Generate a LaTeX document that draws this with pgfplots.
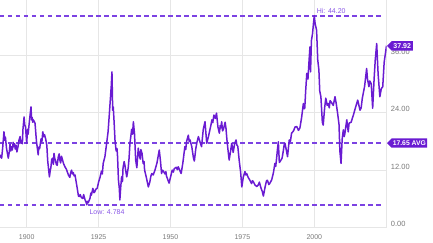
\documentclass[border=0pt]{standalone}
\usepackage{fontspec}
\setmainfont{Liberation Sans}
\usepackage{pgfplots}
\usepackage{pgfplotstable}
\pgfplotsset{compat=1.18}
\usetikzlibrary{shapes.symbols}
\definecolor{cline}{HTML}{6A1BD2}
\definecolor{cdash}{HTML}{7C42E2}
\definecolor{clab}{HTML}{8A58E6}
\definecolor{ctag}{HTML}{6A1BD2}
\definecolor{cgrid}{HTML}{E6E6E6}
\definecolor{ctick}{HTML}{7A7A7A}

\pgfplotstableread{
year val
1890.72 15.2
1890.9 14.8
1891.3 14.5
1891.7 17.0
1892.1 20.0
1892.4 18.2
1892.6 18.9
1893.0 16.5
1893.6 14.5
1894.0 16.0
1894.2 17.4
1894.5 16.0
1894.8 16.9
1895.0 16.2
1895.3 17.8
1895.5 16.9
1895.8 17.5
1896.0 16.4
1896.3 17.2
1896.6 15.8
1897.0 17.0
1897.3 18.2
1897.7 19.0
1898.0 17.6
1898.2 18.2
1898.5 17.5
1898.7 20.5
1899.1 23.1
1899.3 21.5
1899.6 21.0
1900.0 17.6
1900.3 20.5
1900.5 19.5
1901.0 22.5
1901.5 25.2
1901.7 22.5
1901.9 23.0
1902.1 22.0
1902.3 22.5
1902.9 21.8
1903.2 19.5
1903.4 18.0
1904.0 15.2
1904.2 16.8
1904.5 16.5
1905.0 18.5
1905.3 18.0
1905.6 20.0
1905.9 19.0
1906.2 19.4
1906.6 18.5
1907.0 17.2
1907.3 14.0
1907.9 10.6
1908.2 12.0
1908.4 12.5
1908.7 14.2
1909.0 14.5
1909.3 13.2
1909.5 15.5
1909.8 14.3
1910.0 14.1
1910.3 13.2
1910.6 13.0
1911.0 14.8
1911.3 15.4
1911.5 14.2
1911.8 13.5
1912.1 14.9
1912.3 14.5
1912.8 13.4
1913.3 12.7
1913.8 12.2
1914.5 11.0
1915.0 10.5
1915.3 11.5
1915.6 12.0
1915.9 11.2
1916.2 11.5
1916.5 10.8
1916.8 11.0
1917.5 8.5
1918.0 6.6
1918.3 6.5
1918.6 6.9
1919.0 6.3
1919.5 6.1
1919.8 6.9
1920.3 5.8
1920.6 5.4
1920.9 4.784
1921.1 5.5
1921.4 5.2
1922.0 6.1
1922.3 7.2
1922.5 6.8
1923.0 8.2
1923.4 7.3
1923.7 7.5
1924.0 8.0
1924.5 8.2
1925.0 9.5
1925.5 10.5
1926.0 11.8
1926.3 11.2
1926.6 13.4
1927.2 14.8
1927.8 17.6
1928.3 20.0
1928.6 22.5
1929.0 26.0
1929.4 29.5
1929.65 32.5
1929.9 24.5
1930.1 25.2
1930.4 22.0
1930.7 18.3
1931.1 16.0
1931.4 16.5
1931.6 14.8
1931.9 10.0
1932.2 8.2
1932.4 5.8
1932.7 8.5
1933.0 10.6
1933.3 9.6
1933.5 12.5
1933.9 13.8
1934.2 12.9
1934.4 12.0
1934.8 10.6
1935.3 12.5
1935.6 14.5
1935.9 17.6
1936.2 19.0
1936.5 20.5
1936.8 19.5
1937.1 22.1
1937.5 19.5
1937.9 14.1
1938.3 12.5
1938.6 15.0
1938.8 16.6
1939.2 15.0
1939.5 14.3
1939.7 16.3
1940.1 15.5
1940.5 13.4
1940.8 13.8
1941.0 12.0
1941.6 10.5
1942.3 8.5
1942.8 9.5
1943.2 10.8
1943.5 11.3
1944.0 11.0
1944.6 12.0
1945.3 13.5
1945.8 15.2
1946.1 16.2
1946.5 14.0
1946.9 11.3
1947.2 12.0
1947.5 11.8
1948.1 11.2
1948.4 11.7
1948.6 10.8
1949.5 9.3
1950.0 10.5
1950.6 12.0
1951.0 11.6
1951.3 12.3
1952.0 12.6
1952.4 12.1
1952.7 12.7
1953.2 12.0
1953.7 11.3
1954.3 13.5
1955.0 16.9
1955.3 16.3
1955.6 18.0
1956.2 19.3
1956.5 18.0
1956.8 18.3
1957.4 16.9
1958.0 14.5
1958.3 13.9
1958.8 16.5
1959.2 17.8
1959.7 19.0
1960.3 17.8
1960.8 16.9
1961.4 20.5
1962.0 22.1
1962.6 17.6
1963.2 19.0
1963.7 20.4
1964.0 21.2
1964.4 22.5
1964.7 21.9
1965.1 23.5
1965.6 22.8
1966.0 23.9
1966.5 21.0
1967.0 19.7
1967.3 21.3
1967.5 20.8
1967.8 22.1
1968.1 20.2
1968.4 20.5
1969.0 22.0
1969.3 20.7
1969.6 18.5
1970.0 16.2
1970.4 14.1
1970.9 16.0
1971.3 17.6
1971.8 15.7
1972.3 17.5
1972.8 18.3
1973.1 17.2
1973.4 17.0
1973.9 14.0
1974.4 11.5
1974.8 8.5
1975.3 10.5
1975.9 11.7
1976.2 11.0
1976.5 11.3
1977.0 10.5
1977.6 9.9
1978.2 9.2
1978.5 9.8
1978.8 9.6
1979.4 8.9
1980.0 8.6
1980.5 8.9
1980.9 9.5
1981.5 8.2
1981.9 7.6
1982.3 6.6
1982.9 8.5
1983.4 9.8
1983.7 9.9
1984.2 9.0
1984.5 9.2
1985.2 10.0
1985.8 11.5
1986.3 13.4
1986.6 12.8
1986.9 14.5
1987.2 16.4
1987.5 17.9
1987.85 13.6
1988.1 13.8
1988.8 14.5
1989.2 15.9
1989.5 17.2
1989.8 17.6
1990.4 15.8
1990.7 14.8
1991.0 16.6
1991.3 18.3
1991.7 18.0
1992.1 19.7
1992.8 20.2
1993.3 21.0
1993.9 21.1
1994.5 20.3
1995.0 20.8
1995.6 23.0
1996.2 25.9
1996.5 24.8
1996.7 25.0
1997.0 28.5
1997.4 32.2
1997.8 31.0
1998.2 35.0
1998.5 37.7
1998.7 32.5
1999.0 39.0
1999.4 40.5
1999.7 42.5
2000.0 44.2
2000.3 42.5
2000.8 41.2
2001.2 35.0
2001.6 32.9
2001.9 28.5
2002.3 27.3
2002.8 22.0
2003.1 21.4
2003.6 25.0
2004.0 27.0
2004.5 25.5
2004.9 25.9
2005.2 25.0
2005.5 26.5
2006.0 26.1
2006.6 25.5
2007.2 27.3
2007.6 26.0
2008.1 23.9
2008.6 21.5
2008.9 16.0
2009.3 13.4
2009.7 18.5
2010.1 20.4
2010.4 19.0
2010.6 19.5
2011.3 22.5
2011.8 20.0
2012.1 21.8
2012.8 22.0
2013.6 23.5
2014.3 25.0
2015.1 26.6
2015.9 24.5
2016.3 25.0
2016.7 27.0
2017.5 29.5
2018.2 33.2
2018.5 31.0
2019.0 29.4
2019.3 30.6
2019.8 30.0
2020.3 24.9
2020.8 31.0
2021.2 35.0
2021.7 38.4
2022.2 32.0
2022.8 27.3
2023.3 29.0
2023.8 29.4
2024.3 34.5
2025.1 37.92
}\capedata

\begin{document}
\begin{tikzpicture}
\begin{axis}[
  scale only axis, width=386.7pt, height=227.7pt,
  xmin=1890.72, xmax=2025.18, ymin=0, ymax=47.48,
  axis x line*=bottom, axis y line*=right,
  axis line style={draw=cgrid, line width=0.8pt},
  xtick={1900,1925,1950,1975,2000},
  ytick={0,12,24,36},
  grid=major,
  major grid style={draw=cgrid, line width=0.8pt},
  major tick length=0pt,
  /pgf/number format/assume math mode=true,
  xticklabel style={font=\fontsize{7}{8}\selectfont, text=ctick, anchor=north, yshift=-3pt,
    /pgf/number format/1000 sep={}},
  yticklabel={\pgfmathprintnumber[fixed,fixed zerofill,precision=2]{\tick}},
  yticklabel style={font=\fontsize{7.5}{8}\selectfont, text=ctick, anchor=south west, inner sep=0pt, xshift=4pt, yshift=0.5pt},
]
\addplot[cdash, line width=1.6pt, dash pattern=on 4.5pt off 3.5pt] coordinates {(1890.72,44.2) (2023.9,44.2)};
\addplot[cdash, line width=1.6pt, dash pattern=on 4.5pt off 3.5pt] coordinates {(1890.72,17.65) (2023.9,17.65)};
\addplot[cdash, line width=1.6pt, dash pattern=on 4.5pt off 3.5pt] coordinates {(1890.72,4.784) (2023.9,4.784)};
\addplot[cline, line width=1.5pt, line join=round] table[x=year,y=val] {\capedata};
\coordinate (hi) at (axis cs:2000.0,44.2);
\coordinate (lo) at (axis cs:1920.9,4.784);
\coordinate (last) at (axis cs:2025.18,37.92);
\coordinate (avg) at (axis cs:2025.18,17.65);
\end{axis}
\node[anchor=south west, inner sep=0pt, text=clab, font=\fontsize{7}{8}\selectfont, xshift=2.4pt, yshift=2.4pt] at (hi) {Hi: 44.20};
\node[anchor=north west, inner sep=0pt, text=clab, font=\fontsize{7}{8}\selectfont, xshift=2.6pt, yshift=-4.6pt] at (lo) {Low: 4.784};
\node[signal, signal to=west, signal pointer angle=90, fill=ctag, text=white, font=\bfseries\fontsize{7}{8}\selectfont, inner xsep=1.8pt, inner ysep=2.2pt, anchor=west] at (last) {37.92};
\node[signal, signal to=west, signal pointer angle=90, fill=ctag, text=white, font=\bfseries\fontsize{6.8}{8}\selectfont, inner xsep=1.2pt, inner ysep=2.2pt, anchor=west] at (avg) {17.65 AVG};
\pgfresetboundingbox
\useasboundingbox (0,-14.3pt) rectangle (433pt,227.7pt);
\end{tikzpicture}
\end{document}
